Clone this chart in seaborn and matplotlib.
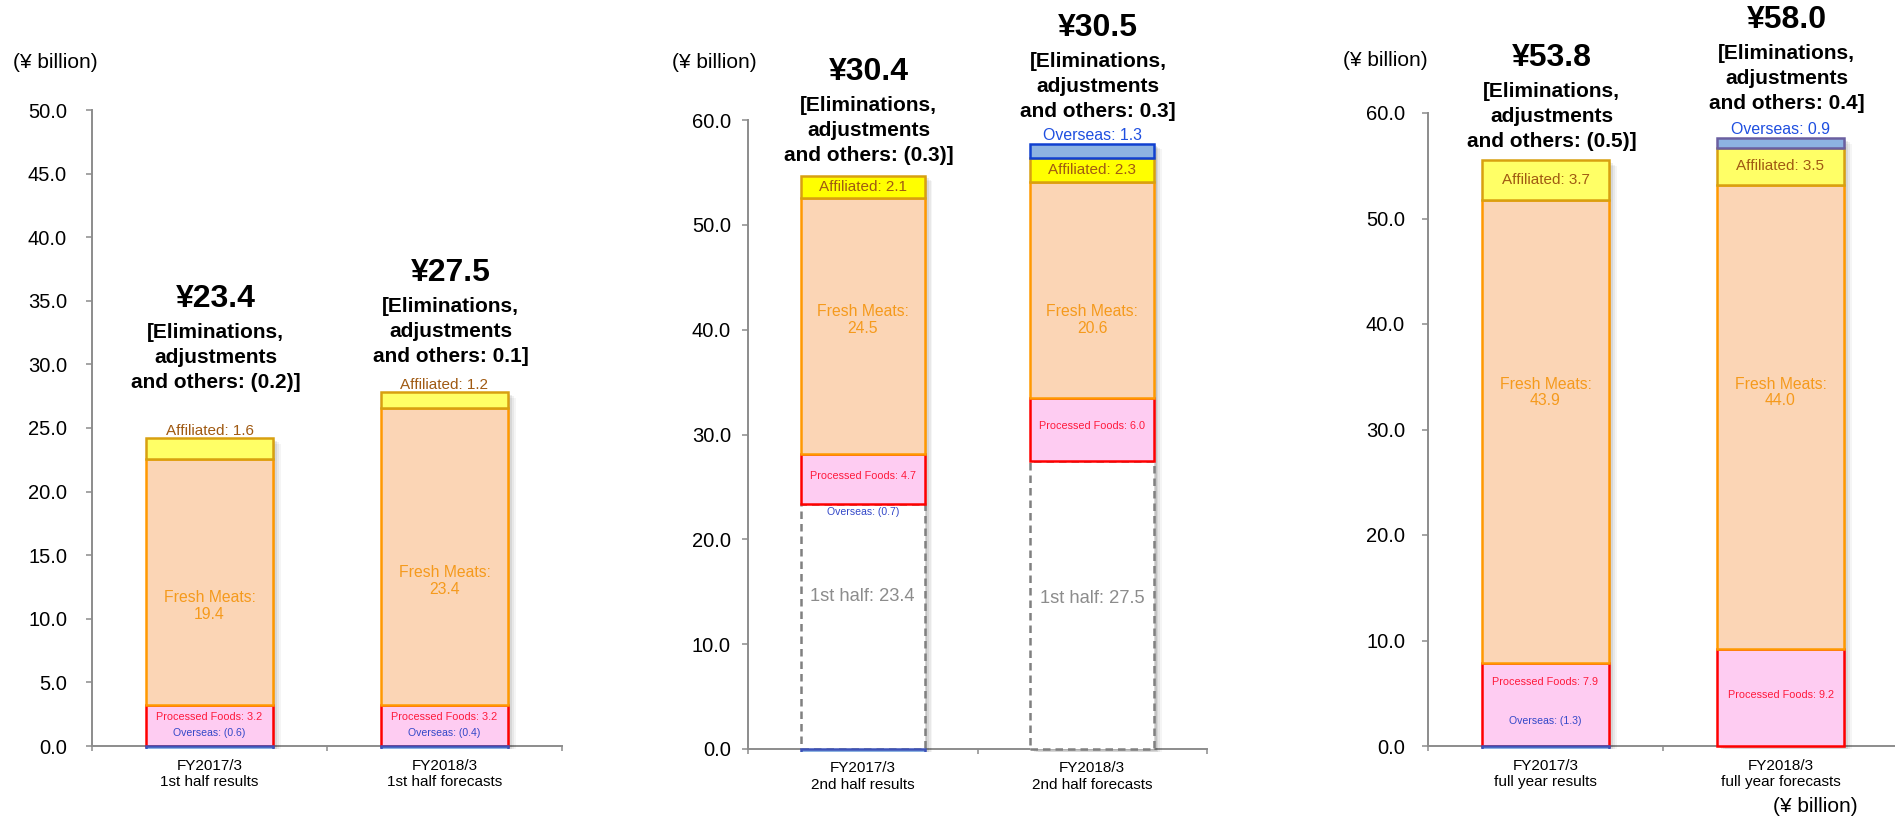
import matplotlib
matplotlib.use("Agg")
import matplotlib.pyplot as plt
import matplotlib.patheffects as pe
import seaborn as sns

sns.set_theme(style="white")
plt.rcParams["font.family"] = ["Liberation Sans", "DejaVu Sans"]

# ---------------------------------------------------------------- data
CATS_1H = ["FY2017/3\n1st half results", "FY2018/3\n1st half forecasts"]
CATS_2H = ["FY2017/3\n2nd half results", "FY2018/3\n2nd half forecasts"]
CATS_FY = ["FY2017/3\nfull year results", "FY2018/3\nfull year forecasts"]

FIRST_HALF_2H = [23.4, 27.5]          # 1st-half base under the 2nd-half bars

PROCESSED_1H = [3.2, 3.2]
FRESH_1H = [19.4, 23.4]
AFFILIATED_1H = [1.6, 1.2]
OVERSEAS_1H = [-0.6, -0.4]
ELIM_1H = [-0.2, 0.1]
TOTAL_1H = [23.4, 27.5]

PROCESSED_2H = [4.7, 6.0]
FRESH_2H = [24.5, 20.6]
AFFILIATED_2H = [2.1, 2.3]
OVERSEAS_2H = [-0.7, 1.3]
ELIM_2H = [-0.3, 0.3]
TOTAL_2H = [30.4, 30.5]

PROCESSED_FY = [7.9, 9.2]
FRESH_FY = [43.9, 44.0]
AFFILIATED_FY = [3.7, 3.5]
OVERSEAS_FY = [-1.3, 0.9]
ELIM_FY = [-0.5, 0.4]
TOTAL_FY = [53.8, 58.0]

# ---------------------------------------------------------------- figure
W, H, DPI = 1895, 817, 100
PT = 72 / DPI  # pixels -> points

fig = plt.figure(figsize=(W / DPI, H / DPI), dpi=DPI)
fig.patch.set_facecolor("white")

BAR_W = 0.54
EDGE_LW = 1.8
FM_FILL, FM_EDGE, FM_TXT = "#FBD5B5", "#FF9900", "#F59A1C"
PF_FILL, PF_EDGE, PF_TXT = "#FECCF2", "#FF0000", "#FF1A3C"
AF_EDGE, AF_TXT = "#D8A010", "#A05A12"
OV_FILL = "#8DB3E2"
OV_TXT_SMALL, OV_TXT = "#3348C8", "#1F4FE0"
SPINE = "#8C8C8C"
PAD_UNITS = 0.25


def fmt(v):
    return f"({abs(v):.1f})" if v < 0 else f"{v:.1f}"


def add_axes(left, right, top_px, zero_px, ymax):
    pxu = (zero_px - top_px) / ymax
    pad = PAD_UNITS * ymax / 50
    bottom_px = zero_px + pad * pxu
    ax = fig.add_axes([left / W, 1 - bottom_px / H, (right - left) / W,
                       (bottom_px - top_px) / H])
    return ax, pad


def bars(ax, cats, idx, heights, bottoms, fill, edge, lw=EDGE_LW, ls="-"):
    if not idx:
        return
    n0 = len(ax.patches)
    sns.barplot(x=[cats[i] for i in idx], y=heights, order=cats, ax=ax,
                color=fill, edgecolor=edge, linewidth=lw, linestyle=ls,
                width=BAR_W, errorbar=None, saturation=1, bottom=bottoms)
    for p in ax.patches[n0:]:
        p.set_zorder(3)


def txt(ax, i, y, s, color, size, va="center", dx=0, dy=0, weight="normal", ls=1.15):
    ax.annotate(s, (i, y), xytext=(dx * PT, dy * PT), textcoords="offset points",
                ha="center", va=va, color=color, fontsize=size,
                fontweight=weight, linespacing=ls, zorder=6)


def panel(spec):
    ax, pad = add_axes(*spec["box"], spec["ymax"])
    cats = spec["cats"]
    n = len(cats)
    base = spec["base"] or [0.0] * n
    pf, fm, af, ov = spec["pf"], spec["fm"], spec["af"], spec["ov"]
    fm_bot = [b + p for b, p in zip(base, pf)]
    af_bot = [b + f for b, f in zip(fm_bot, fm)]
    stack = [b + a for b, a in zip(af_bot, af)]
    top = [s + max(o, 0) for s, o in zip(stack, ov)]

    # soft drop shadow behind every full stack
    n0 = len(ax.patches)
    sns.barplot(x=cats, y=top, order=cats, ax=ax, color="white", linewidth=0,
                width=BAR_W, errorbar=None, saturation=1)
    shadow = [pe.SimplePatchShadow(offset=(o, -o * 0.7), shadow_rgbFace="black", alpha=a)
              for o, a in [(5.5, 0.04), (4.2, 0.05), (3.0, 0.07), (1.8, 0.09), (0.8, 0.10)]]
    for p in ax.patches[n0:]:
        p.set_path_effects(shadow)
        p.set_zorder(2.8)

    allidx = list(range(n))
    if spec["base"]:
        bars(ax, cats, allidx, base, [0.0] * n, "white", "#808080", ls=(0, (3, 2)))
    bars(ax, cats, allidx, pf, base, PF_FILL, PF_EDGE)
    bars(ax, cats, allidx, fm, fm_bot, FM_FILL, FM_EDGE)
    bars(ax, cats, allidx, af, af_bot, spec["af_fill"], AF_EDGE)
    neg = [i for i in allidx if ov[i] < 0]
    pos = [i for i in allidx if ov[i] > 0]
    bars(ax, cats, neg, [ov[i] for i in neg], [0.0] * len(neg), OV_FILL, "#3D52B8")
    bars(ax, cats, pos, [ov[i] for i in pos], [stack[i] for i in pos], OV_FILL,
         spec["ov_edge"])

    # axes styling
    ymax = spec["ymax"]
    ax.set_ylim(-pad, ymax)
    ax.set_xlim(-0.5, 1.5)
    ax.set_yticks([k * spec["ystep"] for k in range(int(ymax / spec["ystep"]) + 1)])
    ax.set_yticklabels([f"{t:.1f}" for t in ax.get_yticks()], fontsize=14.5)
    ax.set_xticks(range(n))
    ax.set_xticklabels(cats, fontsize=12, linespacing=1.05)
    ax.set_xticks([-0.5, 0.5, 1.5], minor=True)
    ax.set_xlabel("")
    ax.set_ylabel("")
    for s in ["top", "right"]:
        ax.spines[s].set_visible(False)
    for s in ["left", "bottom"]:
        ax.spines[s].set_color(SPINE)
        ax.spines[s].set_linewidth(1.4)
        ax.spines[s].set_zorder(2.5)
    ax.spines["bottom"].set_position(("data", 0))
    ax.spines["left"].set_bounds(0, ymax)
    ax.tick_params(axis="y", length=4.3, width=1.1, color=SPINE, pad=spec["ypad"],
                   labelcolor="black", left=True)
    ax.tick_params(axis="x", which="major", length=0, pad=9, labelcolor="black")
    ax.tick_params(axis="x", which="minor", length=3.6, width=1.1, color=SPINE,
                   bottom=True)
    ax.set_facecolor("none")

    # segment labels
    for i in allidx:
        txt(ax, i, spec["fm_y"][i], f"Fresh Meats:\n{fm[i]:.1f}", FM_TXT, 11.3)
        txt(ax, i, spec["pf_y"][i], f"Processed Foods: {pf[i]:.1f}", PF_TXT, 7.8)
        if spec["af_above"]:
            txt(ax, i, stack[i], f"Affiliated: {af[i]:.1f}", AF_TXT, 11,
                va="baseline", dy=3)
        else:
            txt(ax, i, af_bot[i] + af[i] / 2, f"Affiliated: {af[i]:.1f}", AF_TXT, 11)
        if ov[i] < 0:
            txt(ax, i, spec["ov_y"][i], f"Overseas: {fmt(ov[i])}", OV_TXT_SMALL, 7.6)
        else:
            txt(ax, i, top[i], f"Overseas: {fmt(ov[i])}", OV_TXT, 11.4,
                va="baseline", dy=4)
        if spec["base"]:
            txt(ax, i, spec["base_y"][i], f"1st half: {base[i]:.1f}", "#8C8C8C", 13.2)

        # headline total and eliminations note
        g = spec["gap"][i]
        txt(ax, i, top[i], f"¥{spec['total'][i]:.1f}", "black", 23, va="baseline",
            dx=6, dy=g + 31, weight="bold")
        lines = ["[Eliminations,", "adjustments",
                 f"and others: {fmt(spec['elim'][i])}]"]
        for k, line in enumerate(lines):
            txt(ax, i, top[i], line, "black", 15, va="baseline", dx=6,
                dy=g - 25 * k, weight="bold")
    return ax


PANELS = [
    dict(cats=CATS_1H, base=None, pf=PROCESSED_1H, fm=FRESH_1H, af=AFFILIATED_1H,
         ov=OVERSEAS_1H, elim=ELIM_1H, total=TOTAL_1H,
         box=(92, 562, 110, 746), ymax=50, ystep=5, ypad=13.7,
         af_fill="#FFFF66", ov_edge="#2846C8", af_above=True,
         fm_y=[11.0, 13.0], pf_y=[2.3, 2.3], ov_y=[1.0, 1.0], gap=[100, 80]),
    dict(cats=CATS_2H, base=FIRST_HALF_2H, pf=PROCESSED_2H, fm=FRESH_2H,
         af=AFFILIATED_2H, ov=OVERSEAS_2H, elim=ELIM_2H, total=TOTAL_2H,
         box=(748, 1207, 120, 749), ymax=60, ystep=10, ypad=8,
         af_fill="#FFFF00", ov_edge="#1040D0", af_above=False,
         fm_y=[40.9, 40.9], pf_y=[26.0, 30.8], ov_y=[22.6, 0], base_y=[14.5, 14.4],
         gap=[65, 77]),
    dict(cats=CATS_FY, base=None, pf=PROCESSED_FY, fm=FRESH_FY, af=AFFILIATED_FY,
         ov=OVERSEAS_FY, elim=ELIM_FY, total=TOTAL_FY,
         box=(1428, 1898, 113, 746), ymax=60, ystep=10, ypad=12.2,
         af_fill="#FFFF66", ov_edge="#6A5FA0", af_above=False,
         fm_y=[33.5, 33.5], pf_y=[6.07, 4.8], ov_y=[2.4, 0], gap=[63, 79]),
]

for spec in PANELS:
    panel(spec)

# unit captions
for right_px, cy in [(98, 63), (757, 62), (1428, 61)]:
    fig.text(right_px / W, 1 - cy / H, "(¥ billion)", ha="right", va="center",
             fontsize=15, color="black")
fig.text(1815 / W, 1 - 807 / H, "(¥ billion)", ha="center", va="center",
         fontsize=15, color="black")

fig.savefig("out.png", dpi=DPI, facecolor="white")
